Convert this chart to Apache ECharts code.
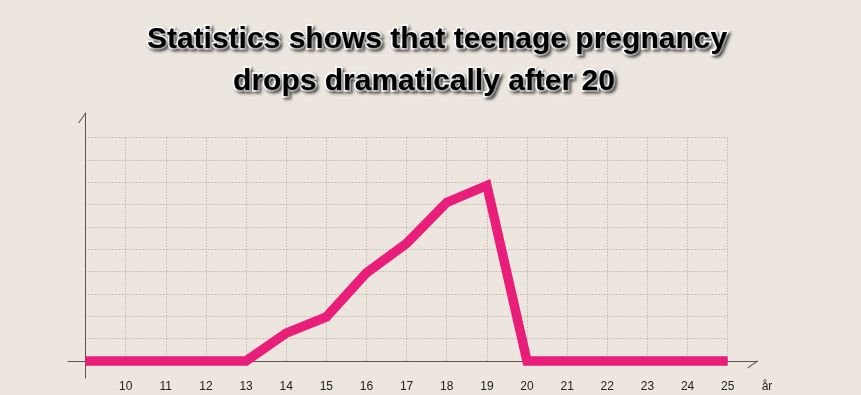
<!DOCTYPE html>
<html>
<head>
<meta charset="utf-8">
<script src="https://cdn.jsdelivr.net/npm/echarts@6/dist/echarts.min.js"></script>
<style>
html,body{margin:0;padding:0;background:#ece6de;}
#c{width:861px;height:395px;}
</style>
</head>
<body>
<div id="c"></div>
<script>
var ages = [9, 10, 11, 12, 13, 14, 15, 16, 17, 18, 19, 20, 21, 22, 23, 24, 25];
var values = [0, 0, 0, 0, 0, 1.25, 1.97, 3.95, 5.27, 7.1, 7.86, 0, 0, 0, 0, 0, 0];
var titleLines = ['Statistics shows that teenage pregnancy', 'drops dramatically after 20'];
var axisName = 'år';

var chart = echarts.init(document.getElementById('c'), null, {renderer: 'canvas'});
var dotted = {color: '#aaa39a', width: 1, type: [1, 2]};
var axisColor = '#5a5550';
var labelFont = 'Liberation Sans, Arial, sans-serif';
var yBarb = 'path://M7,0 L8.2,0 L1.2,10 L0,10 Z M14.9,-10 L15,-10 L15,-9.9 Z';
var xBarb = 'path://M6.8,0 L8,0 L15,10 L13.8,10 Z M0,-10 L0.1,-10 L0,-9.9 Z';
var titleStyle = {
  fontFamily: 'Liberation Sans, Arial, sans-serif',
  fontWeight: 'bold',
  fontSize: 30,
  lineHeight: 39,
  color: '#000',
  textBorderColor: '#fff',
  textBorderWidth: 3.5,
  textShadowColor: 'rgba(0,0,0,0.5)',
  textShadowBlur: 3,
  textShadowOffsetX: 2,
  textShadowOffsetY: 2
};

chart.setOption({
  backgroundColor: '#ece6de',
  animation: false,
  title: [
    {text: titleLines[0], left: 437, textAlign: 'center', top: 20, padding: 0, textStyle: titleStyle},
    {text: titleLines[1], left: 424, textAlign: 'center', top: 62, padding: 0, textStyle: titleStyle}
  ],
  grid: [
    {left: 85.5, right: 133.3, top: 137.7, bottom: 34},
    {left: 68, right: 103.3, top: 113, bottom: 17}
  ],
  xAxis: [
    {
      type: 'value', gridIndex: 0, min: 9, max: 25, interval: 1,
      axisLine: {show: false}, axisTick: {show: false},
      axisLabel: {
        showMinLabel: false, margin: 20, color: '#222',
        fontFamily: labelFont, fontSize: 12
      },
      splitLine: {show: true, lineStyle: dotted}
    },
    {
      type: 'value', gridIndex: 1, min: 0, max: 1, offset: -17,
      axisLine: {show: true, onZero: false, lineStyle: {color: axisColor, width: 1},
        symbol: ['none', xBarb], symbolSize: [15, 20]},
      axisTick: {show: false}, axisLabel: {show: false}, splitLine: {show: false},
      name: axisName, nameLocation: 'end', nameGap: 4,
      nameTextStyle: {color: '#222', fontFamily: labelFont,
        fontSize: 12, verticalAlign: 'top', padding: [20, 0, 0, 0]}
    }
  ],
  yAxis: [
    {
      type: 'value', gridIndex: 0, min: 0, max: 10, interval: 1,
      axisLine: {show: false}, axisTick: {show: false}, axisLabel: {show: false},
      splitLine: {show: true, lineStyle: dotted}
    },
    {
      type: 'value', gridIndex: 1, min: 0, max: 1, offset: -17.5,
      axisLine: {show: true, onZero: false, lineStyle: {color: axisColor, width: 1},
        symbol: ['none', yBarb], symbolSize: [15, 20]},
      axisTick: {show: false}, axisLabel: {show: false}, splitLine: {show: false}
    }
  ],
  series: [{
    type: 'line',
    xAxisIndex: 0, yAxisIndex: 0,
    data: ages.map(function (a, i) { return [a, values[i]]; }),
    showSymbol: false,
    symbol: 'none',
    clip: false,
    lineStyle: {color: '#e91e7b', width: 9.5, cap: 'butt', join: 'miter'},
    z: 5
  }]
});
</script>
</body>
</html>
